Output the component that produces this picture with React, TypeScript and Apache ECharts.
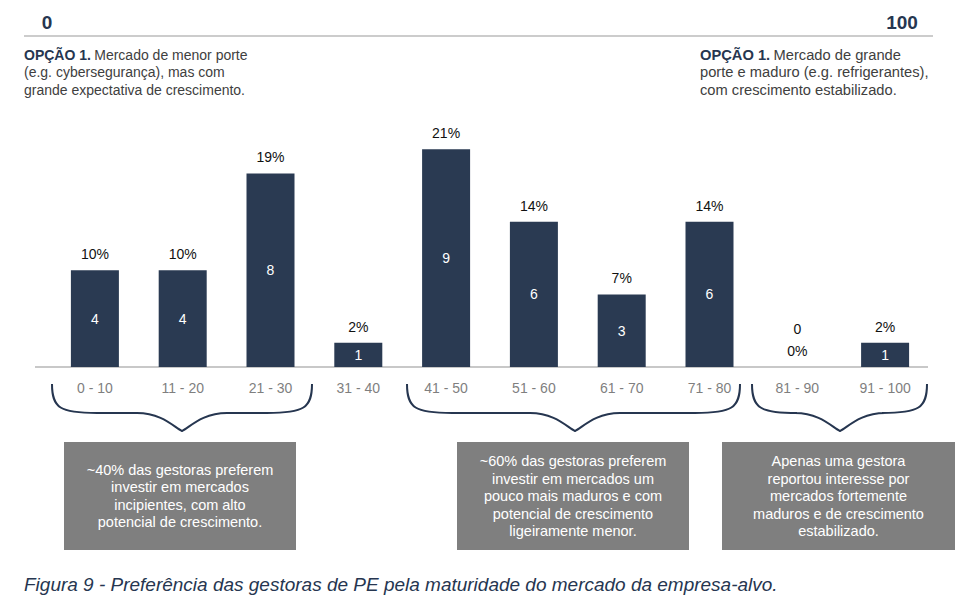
import React, { useEffect, useRef } from "react";
import * as echarts from "echarts";

const categories = ["0 - 10", "11 - 20", "21 - 30", "31 - 40", "41 - 50", "51 - 60", "61 - 70", "71 - 80", "81 - 90", "91 - 100"];
const counts = [4, 4, 8, 1, 9, 6, 3, 6, 0, 1];
const shares = [10, 10, 19, 2, 21, 14, 7, 14, 0, 2];

const scaleEnds = ["0", "100"];
const leftNote = ["Mercado de menor porte", "(e.g. cybersegurança), mas com", "grande expectativa de crescimento."];
const rightNote = ["Mercado de grande", "porte e maduro (e.g. refrigerantes),", "com crescimento estabilizado."];
const optionTag = "OPÇÃO 1.";

const groupNotes = [
  ["~40% das gestoras preferem", "investir em mercados", "incipientes, com alto", "potencial de crescimento."],
  ["~60% das gestoras preferem", "investir em mercados um", "pouco mais maduros e com", "potencial de crescimento", "ligeiramente menor."],
  ["Apenas uma gestora", "reportou interesse por", "mercados fortemente", "maduros e de crescimento", "estabilizado."],
];
const caption = "Figura 9 - Preferência das gestoras de PE pela maturidade do mercado da empresa-alvo.";

const NAVY = "#263650";
const BAR = "#2a3a52";
const FONT = "'Liberation Sans', Arial, sans-serif";

// curly brace spanning x1..x2, opening upward, tip at xm
function bracePath(x1: number, x2: number, xm: number, yt: number, ym: number, yb: number) {
  return [
    `M${x1},${yt}`,
    `C${x1},${yt + 24} ${x1 + 8},${ym} ${x1 + 45},${ym}`,
    `L${xm - 45},${ym}`,
    `C${xm - 20},${ym} ${xm - 8},${yb - 4} ${xm},${yb}`,
    `C${xm + 8},${yb - 4} ${xm + 20},${ym} ${xm + 45},${ym}`,
    `L${x2 - 45},${ym}`,
    `C${x2 - 8},${ym} ${x2},${yt + 24} ${x2},${yt}`,
  ].join(" ");
}

const braces = [
  [52, 312, 182],
  [407, 740, 575],
  [752, 927, 840],
];
braces.forEach((b, i) => {
  echarts.graphic.registerShape(
    "brace" + i,
    echarts.graphic.extendPath(bracePath(b[0], b[1], b[2], 384, 413, 431), {})
  );
});

const boxes = [
  [64, 442, 232, 108],
  [457, 442, 232, 108],
  [722, 442, 233, 108],
];

export default function App() {
  const ref = useRef<HTMLDivElement>(null);
  useEffect(() => {
    const chart = echarts.init(ref.current!, undefined, { renderer: "svg" });

    const noteText = (lines: string[]) =>
      `{b|${optionTag}} {n|${lines[0]}}\n` + lines.slice(1).map((l) => `{n|${l}}`).join("\n");
    const noteRich = (size: number) => ({
      b: { fontWeight: "bold", fill: NAVY, fontSize: size, fontFamily: FONT, lineHeight: 17.5 },
      n: { fill: "#404040", fontSize: size, fontFamily: FONT, lineHeight: 17.5 },
    });

    const graphics: any[] = [
      { type: "line", shape: { x1: 24, y1: 36, x2: 933, y2: 36 }, style: { stroke: "#cccccc", lineWidth: 2 } },
      { type: "text", x: 47, y: 22, style: { text: scaleEnds[0], font: `bold 19px ${FONT}`, fill: NAVY, textAlign: "center", textVerticalAlign: "middle" } },
      { type: "text", x: 902, y: 22, style: { text: scaleEnds[1], font: `bold 19px ${FONT}`, fill: NAVY, textAlign: "center", textVerticalAlign: "middle" } },
      { type: "text", x: 24, y: 46, style: { text: noteText(leftNote), rich: noteRich(14), textVerticalAlign: "top" } },
      { type: "text", x: 700, y: 46, style: { text: noteText(rightNote), rich: noteRich(14.7), textVerticalAlign: "top" } },
      { type: "line", shape: { x1: 35, y1: 367, x2: 928, y2: 367 }, style: { stroke: "#c8c8c8", lineWidth: 2 } },
      {
        type: "text", x: 24, y: 585, scaleX: 1.055,
        style: { text: caption, font: `italic 18px ${FONT}`, fill: NAVY, textVerticalAlign: "middle" },
      },
    ];
    braces.forEach((_, i) => {
      graphics.push({ type: "brace" + i, x: 0, y: 0, style: { fill: "none", stroke: NAVY, lineWidth: 2 } });
    });
    boxes.forEach((b, i) => {
      graphics.push({ type: "rect", shape: { x: b[0], y: b[1], width: b[2], height: b[3] }, style: { fill: "#7f7f7f" } });
      graphics.push({
        type: "text", x: b[0] + b[2] / 2, y: b[1] + b[3] / 2,
        style: {
          text: groupNotes[i].join("\n"), font: `14.5px ${FONT}`, fill: "#ffffff",
          textAlign: "center", textVerticalAlign: "middle", lineHeight: 17.5,
        },
      });
    });

    chart.setOption({
      animation: false,
      textStyle: { fontFamily: FONT },
      grid: { left: 51, right: 43, top: 125, bottom: 247 },
      xAxis: {
        type: "category",
        data: categories,
        axisLine: { show: false },
        axisTick: { show: false },
        axisLabel: { color: "#7f7f7f", fontSize: 14, margin: 14, fontFamily: FONT },
      },
      yAxis: { type: "value", min: 0, max: 10, show: false },
      series: [
        {
          type: "bar",
          barWidth: 48,
          itemStyle: { color: BAR },
          data: counts.map((v) =>
            v === 0
              ? { value: v, label: { position: "top", distance: 31, color: "#111111" } }
              : v
          ),
          label: { show: true, position: "inside", color: "#ffffff", fontSize: 14, fontFamily: FONT },
          z: 3,
        },
        {
          type: "bar",
          barWidth: 48,
          barGap: "-100%",
          itemStyle: { color: "transparent" },
          data: counts,
          label: {
            show: true, position: "top", distance: 9, color: "#111111", fontSize: 14, fontFamily: FONT,
            formatter: (p: any) => `${shares[p.dataIndex]}%`,
          },
          z: 2,
        },
      ],
      graphic: graphics,
    });
    return () => chart.dispose();
  }, []);
  return <div ref={ref} style={{ position: "fixed", left: 0, top: 0, width: 972, height: 614, background: "#fff" }} />;
}
